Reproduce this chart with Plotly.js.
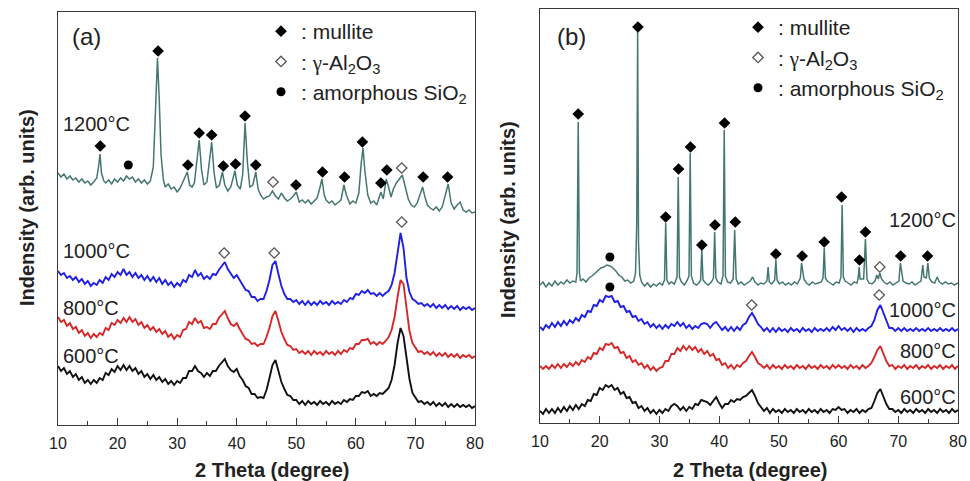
<!DOCTYPE html>
<html>
<head>
<meta charset="utf-8">
<script src="https://cdn.plot.ly/plotly-3.0.1.min.js"></script>
<style>
  html, body { margin: 0; padding: 0; background: #fff; }
  #chart { width: 970px; height: 481px; }
</style>
</head>
<body>
<div id="chart"></div>
<script>
// XRD patterns (intensity in arbitrary units, curves stacked with offsets)

// common 2-theta scan grid of the 600-1000 °C patterns
const scan = [10,10.5,11,11.5,12,12.5,13,13.5,14,14.5,15,15.5,16,16.5,17,17.5,18,18.5,19,19.5,
  20,20.5,21,21.5,22,22.5,23,23.5,24,24.5,25,25.5,26,26.5,27,27.5,28,28.5,29,29.5,
  30,30.5,31,31.5,32,32.5,33,33.5,34,34.5,35,35.5,36,36.5,37,37.5,38,38.5,39,39.5,
  40,40.5,41,41.5,42,42.5,43,43.5,44,44.5,45,45.5,46,46.5,47,47.5,48,48.5,49,49.5,
  50,50.5,51,51.5,52,52.5,53,53.5,54,54.5,55,55.5,56,56.5,57,57.5,58,58.5,59,59.5,
  60,60.5,61,61.5,62,62.5,63,63.5,64,64.5,65,65.5,66,66.5,67,67.5,68,68.5,69,69.5,
  70,70.5,71,71.5,72,72.5,73,73.5,74,74.5,75,75.5,76,76.5,77,77.5,78,78.5,79,79.5,80];

// ---- panel (a) ----
const a1200x = [10,10.5,11,11.5,12,12.5,13,13.5,14,14.5,15,15.5,16,16.5,16.8,17.05,17.3,17.7,18,18.5,19,19.5,
  20,20.5,21,21.5,22,22.5,23,23.5,24,24.5,25,25.5,26,26.35,26.7,27,27.3,27.7,28,28.5,29,29.5,
  30,30.5,31,31.7,32.1,32.5,32.9,33.3,33.7,34.1,34.5,35,35.4,35.8,36.2,36.6,37.1,37.6,38,38.5,39,39.7,
  40.1,40.6,41,41.4,41.8,42.2,42.7,43.2,43.6,44,44.5,45,45.5,46,46.5,47,47.5,48,48.5,49,49.5,50,50.5,
  51,51.5,52,52.5,53,53.5,54,54.3,54.7,55,55.5,56,56.5,57,57.5,58,58.4,59,59.5,60,60.5,60.9,61.2,61.5,
  62,62.5,63,63.5,64.2,64.6,65.1,65.5,65.9,66.3,66.8,67.3,67.8,68.3,68.8,69.3,69.8,70.3,70.8,71.2,71.6,
  72,72.5,73,73.5,74,74.5,75.1,75.5,76,76.5,77,77.5,78,78.5,79,79.5,80];
const a1200y = [252,248,251,246,249,245,247,243,246,242,244,240,243,247,258,271,252,244,242,245,241,246,
  243,247,244,249,246,248,243,246,242,245,241,244,258,320,367,325,270,245,238,241,236,238,
  233,237,243,253,240,238,242,262,285,255,240,243,265,283,252,237,240,253,240,234,238,254,
  240,236,250,302,262,238,240,253,236,230,226,228,229,234,229,226,232,227,224,226,229,233,223,
  225,222,225,221,224,227,238,246,230,225,222,224,220,223,225,240,230,221,224,222,232,262,277,255,
  230,222,224,220,233,226,246,238,228,236,242,246,250,238,226,220,218,222,230,238,228,
  220,217,215,218,214,218,232,241,222,216,220,223,215,213,215,212,213];

const a1000 = [154,150,152,147,149,145,148,143,146,141,
  144,139,142,140,145,142,148,145,151,148,
  153,150,156,150,153,148,152,147,150,145,
  149,144,148,143,147,141,145,140,143,138,
  142,139,145,143,150,148,155,149,152,146,
  149,146,151,150,155,159,163,156,151,147,
  150,145,141,135,134,128,128,124,126,126,
  134,145,160,164,151,139,131,126,126,123,
  125,121,124,120,124,120,123,120,124,121,
  123,120,124,121,123,121,125,123,127,126,
  131,130,134,132,135,131,132,129,132,129,
  132,134,140,152,172,192,177,147,133,126,
  124,121,122,119,121,118,121,117,120,117,
  120,116,119,116,119,115,118,116,118,115,
  117];

const a800 = [108,103,105,99,102,96,98,92,95,89,
  92,87,91,88,92,90,97,95,102,100,
  105,102,107,103,108,103,106,100,103,97,
  100,95,98,93,96,91,94,88,91,86,
  90,88,95,96,103,101,107,102,104,97,
  98,96,101,101,107,110,114,107,101,99,
  102,96,91,86,85,81,82,79,81,81,
  88,97,109,114,104,93,86,80,79,75,
  76,72,74,71,74,70,74,71,73,70,
  74,71,73,70,74,71,75,73,77,76,
  81,81,85,85,86,81,83,80,83,81,
  84,88,95,108,128,145,141,118,94,82,
  77,73,74,71,73,70,73,69,72,69,
  72,68,71,68,71,67,70,68,70,67,
  69];

const a600 = [59,54,57,51,54,48,51,45,48,42,
  45,41,45,42,47,45,52,50,56,53,
  59,55,60,55,59,54,57,51,54,48,
  51,46,50,45,48,43,46,41,44,40,
  44,42,47,47,54,54,59,54,52,48,
  52,49,54,54,59,63,66,59,55,53,
  56,49,45,39,37,31,31,27,28,27,
  35,47,60,65,54,43,36,30,29,25,
  25,21,24,20,24,21,23,20,24,21,
  23,20,24,21,23,21,25,23,26,25,
  29,29,33,32,34,29,31,29,32,31,
  34,37,45,60,82,97,89,68,46,32,
  27,23,24,21,23,20,23,19,22,19,
  22,18,21,18,21,18,20,18,20,17,
  19];

// phase identification marks, panel (a)
const aMulliteX = [17.1,26.8,31.8,33.7,35.8,37.75,39.8,41.4,43.2,49.95,54.4,58.1,61.1,64.2,65.2,71.3,75.4];
const aMulliteY = [279,374,260,292,290,259,261,309,260,240,253,248,283,242,255,248,248];
const aAluminaX = [46.1,67.7,37.9,46.3,67.7];
const aAluminaY = [243,257,172,172,203];
const aSilicaX = [21.8];
const aSilicaY = [260];

// ---- panel (b) ----
const b1200x = [10,10.5,11,11.5,12,12.5,13,13.5,14,14.5,15,15.5,16,16.2,16.4,16.6,16.8,17.2,17.7,18.2,18.7,19.2,19.7,
  20.2,20.7,21.2,21.7,22.2,22.7,23.2,23.7,24.2,24.7,25.2,25.7,26,26.2,26.35,26.5,26.7,27,27.5,28,28.5,29,29.5,
  30,30.5,30.85,31.05,31.25,31.6,32,32.5,32.95,33.15,33.35,33.7,34.2,34.6,34.95,35.15,35.35,35.7,36.2,36.6,36.9,
  37.1,37.3,37.7,38.2,38.7,39.05,39.25,39.45,39.8,40.3,40.65,40.85,41.05,41.4,41.9,42.35,42.6,42.85,43.2,43.7,
  44.2,44.7,45.2,45.6,46,46.5,47,47.5,48,48.2,48.4,48.8,49.3,49.5,49.7,50.1,50.6,51.1,51.6,52.1,52.6,53.1,53.6,
  53.8,54,54.2,54.6,55.1,55.6,56.1,56.6,57.1,57.4,57.6,57.8,58.1,58.6,59.1,59.6,60.1,60.4,60.6,60.8,61.1,61.6,
  62.1,62.6,63.1,63.3,63.45,63.6,64.2,64.5,64.75,65.1,65.6,66.1,66.4,66.65,66.9,67.2,67.6,68.1,68.6,69.1,69.6,
  70.1,70.35,70.55,70.8,71.3,71.8,72.3,72.8,73.3,73.8,74.1,74.3,74.7,74.95,75.2,75.6,76.1,76.5,76.9,77.4,77.9,
  78.4,78.9,79.4,80];
const b1200y = [138,141,136,140,137,142,138,141,139,143,140,142,141,150,301,150,142,144,141,145,147,150,152,
  155,156,158,157,155,152,148,146,142,143,140,142,150,200,391,180,148,141,137,140,136,139,137,
  140,138,143,200,143,139,141,139,146,246,146,141,138,142,147,270,147,140,138,140,143,
  173,143,140,138,141,145,191,145,141,139,147,293,147,141,140,144,193,144,139,141,
  138,140,142,146,141,138,140,139,142,156,141,139,143,163,143,139,141,138,140,138,141,139,145,
  160,152,144,140,138,141,139,140,141,145,175,145,142,140,138,141,140,146,218,146,142,140,
  138,141,140,146,156,144,144,184,144,140,139,142,148,144,150,144,141,139,141,138,140,
  142,160,150,142,140,139,141,138,140,142,158,146,145,160,145,141,140,146,141,139,141,
  139,140,138,140];

const b1000 = [96,93,98,95,100,96,101,97,102,98,
  103,100,105,102,108,106,112,111,118,117,
  123,121,127,126,127,121,122,116,117,111,
  112,106,107,102,104,99,101,96,99,95,
  98,94,98,95,99,97,101,97,100,95,
  98,94,97,95,99,100,99,95,99,101,
  97,93,96,92,96,92,96,93,98,100,
  106,110,105,99,96,92,95,91,95,91,
  95,92,94,91,95,92,94,91,95,92,
  94,91,95,92,94,92,95,92,96,93,
  97,93,95,92,95,91,95,92,94,92,
  95,97,103,113,118,110,101,95,95,92,
  95,92,95,92,94,92,95,92,94,92,
  95,92,94,92,95,92,94,92,95,92,
  94];

const b800 = [57,54,57,54,58,55,59,55,59,56,
  60,57,61,58,63,61,66,64,70,69,
  75,73,79,78,80,75,76,70,71,65,
  67,61,63,58,60,55,58,53,56,52,
  55,56,62,62,69,69,75,72,77,73,
  77,73,76,71,74,69,72,67,69,63,
  64,58,60,55,58,54,58,56,60,62,
  67,71,66,60,58,55,58,54,58,55,
  57,54,58,55,57,54,58,55,57,54,
  58,55,57,54,58,55,57,54,58,55,
  58,55,57,54,58,55,57,54,58,55,
  57,60,66,73,77,70,62,57,58,54,
  57,55,58,54,57,55,58,54,57,55,
  58,54,57,55,58,54,57,55,58,54,
  57];

const b600 = [12,9,14,10,14,10,15,11,16,12,
  17,13,18,14,19,17,23,22,29,28,
  35,33,38,36,38,33,35,29,31,25,
  26,20,21,15,17,12,15,10,13,9,
  13,10,14,12,17,19,17,13,16,12,
  16,14,19,18,23,22,21,18,22,26,
  20,15,19,19,23,21,24,23,26,27,
  30,33,27,20,16,12,15,10,14,11,
  13,10,14,11,13,10,14,11,13,10,
  14,11,13,10,14,11,13,10,14,13,
  16,13,14,10,13,11,14,10,13,11,
  14,15,22,30,34,27,19,14,14,11,
  13,10,14,11,13,10,14,11,13,10,
  14,11,13,10,14,11,13,10,14,11,
  13];

// phase identification marks, panel (b)
const bMulliteX = [16.4,26.4,31.05,33.2,35.2,37.1,39.3,40.9,42.7,49.5,53.9,57.6,60.5,63.5,64.5,70.4,74.9];
const bMulliteY = [309,396,206,254,276,178,198,300,201,169,167,181,226,163,191,167,167];
const bAluminaX = [66.9,45.45,66.8];
const bAluminaY = [156,118,128];
const bSilicaX = [21.7,21.7];
const bSilicaY = [166,136];

const gamma = '<span style="font-family:Liberation Serif, Times New Roman, serif">\u03B3</span>';
const phaseNames = [': mullite', ': ' + gamma + '-Al<sub>2</sub>O<sub>3</sub>', ': amorphous SiO<sub>2</sub>'];
const tempLabels = ['1200\u00B0C', '1000\u00B0C', '800\u00B0C', '600\u00B0C'];
const axisTitleX = '2 Theta (degree)';
const axisTitleY = 'Indensity (arb. units)';

// ---- styling ----
const FONT = 'Liberation Sans, Arial, Helvetica, sans-serif';
const INK = '#222222';
const FRAME = '#3a3a3a';
const COLORS = { t1200: '#44776f', t1000: '#1f1fe6', t800: '#d62828', t600: '#111111' };
const W = 970, H = 481;
const px = v => v / W;
const py = v => 1 - v / H;

function curve(x, y, color, xa, ya, width) {
  return { type: 'scatter', mode: 'lines', x, y, xaxis: xa, yaxis: ya,
    line: { color, width, shape: 'linear' }, hoverinfo: 'skip', showlegend: false };
}
function marks(x, y, style, name, xa, ya, legend) {
  return { type: 'scatter', mode: 'markers', x, y, xaxis: xa, yaxis: ya, name,
    marker: style, hoverinfo: 'skip', showlegend: true, legend, cliponaxis: false };
}
const mulliteStyle = { symbol: 'diamond', size: 9, color: '#000', line: { width: 0 } };
const aluminaStyle = { symbol: 'diamond-open', size: 8, color: '#555', line: { width: 1.3, color: '#555' } };
const silicaStyle = { symbol: 'circle', size: 9, color: '#000', line: { width: 0 } };

const traces = [
  curve(a1200x, a1200y, COLORS.t1200, 'x', 'y', 1.5),
  curve(scan, a1000, COLORS.t1000, 'x', 'y', 1.9),
  curve(scan, a800, COLORS.t800, 'x', 'y', 1.9),
  curve(scan, a600, COLORS.t600, 'x', 'y', 1.9),
  marks(aMulliteX, aMulliteY, mulliteStyle, phaseNames[0], 'x', 'y', 'legend'),
  marks(aAluminaX, aAluminaY, aluminaStyle, phaseNames[1], 'x', 'y', 'legend'),
  marks(aSilicaX, aSilicaY, silicaStyle, phaseNames[2], 'x', 'y', 'legend'),
  curve(b1200x, b1200y, COLORS.t1200, 'x2', 'y2', 1.5),
  curve(scan, b1000, COLORS.t1000, 'x2', 'y2', 1.9),
  curve(scan, b800, COLORS.t800, 'x2', 'y2', 1.9),
  curve(scan, b600, COLORS.t600, 'x2', 'y2', 1.9),
  marks(bMulliteX, bMulliteY, mulliteStyle, phaseNames[0], 'x2', 'y2', 'legend2'),
  marks(bAluminaX, bAluminaY, aluminaStyle, phaseNames[1], 'x2', 'y2', 'legend2'),
  marks(bSilicaX, bSilicaY, silicaStyle, phaseNames[2], 'x2', 'y2', 'legend2')
];

function xAxis(domain, anchor) {
  return { domain, anchor, range: [10, 80], showline: true, mirror: true, linecolor: FRAME, linewidth: 1.3,
    ticks: 'inside', ticklen: 7, tickwidth: 1.3, tickcolor: FRAME, tick0: 10, dtick: 10,
    minor: { ticks: 'inside', ticklen: 4, tickwidth: 1.2, tickcolor: FRAME, tick0: 10, dtick: 5, showgrid: false },
    showgrid: false, zeroline: false, ticklabelstandoff: 4,
    tickfont: { family: FONT, size: 16, color: INK }, fixedrange: true, automargin: false };
}
function yAxis(domain, anchor, top) {
  return { domain, anchor, range: [0, top], showline: true, mirror: true, linecolor: FRAME, linewidth: 1.3,
    ticks: '', showticklabels: false, showgrid: false, zeroline: false, fixedrange: true, automargin: false };
}
function legendBox(x, y) {
  return { x, y, xanchor: 'left', yanchor: 'top', bgcolor: 'rgba(0,0,0,0)', borderwidth: 0,
    font: { family: FONT, size: 21, color: INK }, itemwidth: 30, tracegroupgap: 0, itemclick: false, itemdoubleclick: false };
}
function note(text, x, y, size, anchor, extra) {
  return Object.assign({ text, xref: 'paper', yref: 'paper', x: px(x), y: py(y), xanchor: anchor, yanchor: 'middle',
    showarrow: false, font: { family: FONT, size, color: INK } }, extra || {});
}

const annotations = [
  note('(a)', 86, 37, 24, 'center'),
  note('(b)', 571, 37, 24, 'center'),
  note(tempLabels[0], 61, 124, 20, 'left'),
  note(tempLabels[1], 61, 251, 20, 'left'),
  note(tempLabels[2], 61, 308, 20, 'left'),
  note(tempLabels[3], 61, 356, 20, 'left'),
  note(tempLabels[0], 958, 220, 20, 'right'),
  note(tempLabels[1], 958, 310, 20, 'right'),
  note(tempLabels[2], 958, 351, 20, 'right'),
  note(tempLabels[3], 958, 397, 20, 'right'),
  note('<b>' + axisTitleX + '</b>', 272, 470, 20, 'center'),
  note('<b>' + axisTitleX + '</b>', 750, 470, 20, 'center'),
  note('<b>' + axisTitleY + '</b>', 27, 208, 20, 'center', { textangle: -90 }),
  note('<b>' + axisTitleY + '</b>', 508, 220, 20, 'center', { textangle: -90 })
];

const layout = {
  width: W, height: H,
  margin: { l: 0, r: 0, t: 0, b: 0, pad: 0 },
  paper_bgcolor: '#ffffff', plot_bgcolor: '#ffffff',
  showlegend: true,
  xaxis: xAxis([px(58), px(475)], 'y'),
  yaxis: yAxis([py(425), py(12)], 'x', 413),
  xaxis2: xAxis([px(540), px(958)], 'y2'),
  yaxis2: yAxis([py(423), py(9)], 'x2', 414),
  legend: legendBox(px(261), py(11)),
  legend2: legendBox(px(738), py(7)),
  annotations
};

Plotly.newPlot('chart', traces, layout, { displayModeBar: false });
</script>
</body>
</html>
